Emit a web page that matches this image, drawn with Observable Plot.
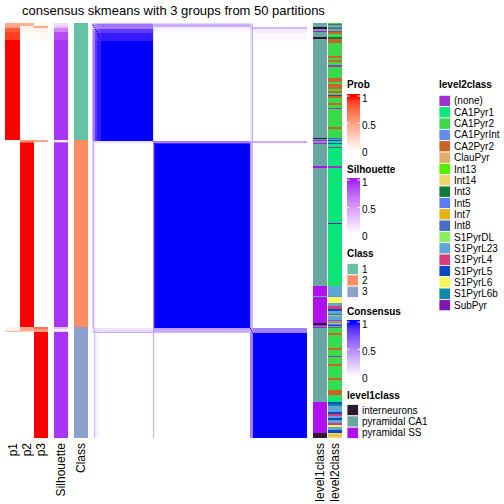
<!DOCTYPE html>
<html><head><meta charset="utf-8">
<script src="https://cdn.jsdelivr.net/npm/d3@7"></script>
<script src="https://cdn.jsdelivr.net/npm/@observablehq/plot@0.6"></script>
<style>
body{margin:0;background:#fff;}
#root{position:relative;width:504px;height:504px;overflow:hidden;font-family:"Liberation Sans",Arial,Helvetica,sans-serif;background:#fff;}
</style></head><body><div id="root"></div>
<script>
// ---------------- data ----------------
const titleText = "consensus skmeans with 3 groups from 50 partitions";
const nRows = 415;
const classNames = ["1","2","3"];
const classColors = ["#66C2A5","#FC8D62","#8DA0CB"];

// sample segments (top to bottom): number of rows, class, membership probs, silhouette,
// consensus of the segment with the core of clusters 1..3
const segRows  = [3, 2, 4, 8, 100, 2, 1, 184, 2, 2, 1, 106];
const segClass = ["1","1","1","1","1","2","2","2","3","3","3","3"];
const segP1    = [0.45,0.50,0.80,0.90,1.00, 0.00,0.05,0.00, 0.05,0.10,0.40,0.00];
const segP2    = [0.42,0.08,0.05,0.02,0.00, 0.55,0.85,1.00, 0.45,0.45,0.20,0.00];
const segP3    = [0.05,0.45,0.08,0.04,0.00, 0.45,0.05,0.00, 0.70,0.50,0.50,1.00];
const segSil   = [0.20,0.30,0.60,0.85,0.94, 0.10,0.70,0.94, 0.30,0.08,0.20,0.94];
const segCons1 = [0.60,0.55,0.85,0.95,1.00, 0.12,0.02,0.00, 0.12,0.15,0.35,0.00];
const segCons2 = [0.35,0.08,0.03,0.00,0.00, 0.55,0.90,1.00, 0.40,0.35,0.30,0.00];
const segCons3 = [0.00,0.30,0.08,0.03,0.00, 0.35,0.05,0.00, 0.55,0.55,0.55,1.00];

const level1Names  = ["interneurons","pyramidal CA1","pyramidal SS"];
const level1Colors = ["#2E1A2E","#69A8A2","#B010F0"];
const level1Runs = [
  ["pyramidal CA1",4],["interneurons",2],["pyramidal CA1",2],["pyramidal SS",1],["pyramidal CA1",5],
  ["interneurons",2],["pyramidal CA1",99],["interneurons",1],["pyramidal CA1",1],["pyramidal SS",1],
  ["pyramidal CA1",2],["pyramidal SS",1],["pyramidal CA1",22],["pyramidal SS",2],["pyramidal CA1",118],
  ["pyramidal SS",10],["pyramidal CA1",1],["pyramidal SS",26],["interneurons",2],["pyramidal SS",1],
  ["pyramidal CA1",1],["pyramidal SS",1],["pyramidal CA1",74],["pyramidal SS",31],["interneurons",5]
];

const level2Names  = ["(none)","CA1Pyr1","CA1Pyr2","CA1PyrInt","CA2Pyr2","ClauPyr","Int13","Int14","Int3","Int5","Int7","Int8","S1PyrDL","S1PyrL23","S1PyrL4","S1PyrL5","S1PyrL6","S1PyrL6b","SubPyr"];
const level2Colors = ["#A030D0","#0AE67A","#3BDA4A","#6090E8","#C8652A","#DEAE6A","#55EE00","#EAD56E","#117A3A","#5A7CFA","#E0B514","#4A6CC0","#8CF05C","#5EA6D6","#D83C78","#0A4AC0","#F6F65E","#0B89A6","#7D1AAE"];
const level2Runs = [
  ["CA1Pyr2",1],["(none)",1],["CA1Pyr2",2],["Int5",1],["(none)",1],["CA1Pyr2",2],["(none)",1],["CA2Pyr2",2],
  ["CA1Pyr2",3],["Int3",2],["CA2Pyr2",4],["CA1Pyr2",13],["CA2Pyr2",2],["CA1Pyr2",2],["CA2Pyr2",2],["CA1Pyr2",3],
  ["(none)",2],["CA1Pyr2",11],["CA2Pyr2",4],["CA1Pyr2",2],["CA2Pyr2",5],["CA1Pyr2",2],["CA2Pyr2",2],["CA1Pyr2",2],
  ["SubPyr",1],["CA2Pyr2",2],["CA1Pyr2",5],["CA2Pyr2",2],["CA1Pyr2",3],["(none)",1],["CA1Pyr2",18],["CA2Pyr2",2],
  ["CA1Pyr2",9],["Int8",1],["CA1PyrInt",1],["S1PyrL5",1],["CA1Pyr1",2],["S1PyrL5",1],["CA1Pyr1",3],["(none)",1],
  ["CA1Pyr1",18],["(none)",2],["CA1Pyr1",10],["CA1Pyr2",1],["CA1Pyr1",44],["SubPyr",1],["CA1Pyr1",39],["CA1Pyr2",1],
  ["CA1Pyr1",18],["CA1Pyr2",2],["CA1Pyr1",2],["S1PyrL23",10],["CA1PyrInt",1],["S1PyrL6",6],["S1PyrL23",3],["S1PyrL4",3],
  ["S1PyrL5",2],["S1PyrL23",3],["S1PyrL6b",1],["ClauPyr",1],["S1PyrL23",4],["S1PyrL4",1],["S1PyrL23",2],["Int7",1],
  ["Int5",1],["S1PyrL5",1],["CA1Pyr2",1],["(none)",1],["CA1Pyr2",5],["CA2Pyr2",2],["CA1Pyr2",6],["CA1Pyr1",1],
  ["CA1Pyr2",6],["CA2Pyr2",2],["CA1Pyr2",6],["(none)",1],["CA1Pyr2",7],["CA2Pyr2",2],["CA1Pyr2",6],["CA1Pyr1",1],
  ["CA1Pyr2",5],["CA2Pyr2",2],["CA1Pyr2",5],["CA1Pyr1",1],["CA1Pyr2",4],["CA2Pyr2",5],["CA1Pyr2",3],["CA1Pyr1",4],
  ["S1PyrL5",2],["S1PyrL6b",2],["S1PyrL23",6],["S1PyrL5",2],["S1PyrL4",2],["S1PyrL23",2],["S1PyrL5",2],["S1PyrL23",3],
  ["S1PyrL4",2],["S1PyrL6",2],["S1PyrL23",3],["S1PyrL5",3],["Int14",2],["Int7",1],["Int14",2]
];

const colLabels = ["p1","p2","p3","Silhouette","Class","level1class","level2class"];

// ---------------- build tables ----------------
let acc = 0;
const segs = segRows.map((n, k) => {
  const s = {start: acc, end: acc + n, cls: segClass[k], p1: segP1[k], p2: segP2[k], p3: segP3[k],
             sil: segSil[k], cons: [segCons1[k], segCons2[k], segCons3[k]]};
  acc += n; return s;
});
function runsToRows(runs) { let a = 0; return runs.map(([v, n]) => { const r = {start: a, end: a + n, v}; a += n; return r; }); }
const level1Data = runsToRows(level1Runs);
const level2Data = runsToRows(level2Runs);

const rowSeg = new Int32Array(nRows);
segs.forEach((s, k) => { for (let i = s.start; i < s.end; i++) rowSeg[i] = k; });
const consValues = new Float64Array(nRows * nRows);
for (let i = 0; i < nRows; i++) {
  const a = segs[rowSeg[i]].cons;
  for (let j = 0; j < nRows; j++) {
    const b = segs[rowSeg[j]].cons;
    consValues[i * nRows + j] = i === j ? 1 : Math.min(1, a[0]*b[0] + a[1]*b[1] + a[2]*b[2]);
  }
}

// ---------------- drawing ----------------
const root = document.getElementById("root");
const TOP = 23;
function place(el, left, top) {
  el.style.position = "absolute"; el.style.left = left + "px"; el.style.top = top + "px";
  el.style.maxWidth = "none"; el.style.background = "transparent";
  root.appendChild(el);
}
const yScale = {domain: [0, nRows], reverse: true, axis: null};
function column(left, width, data, fill, color) {
  place(Plot.plot({width, height: nRows, margin: 0, x: {axis: null}, y: yScale, color,
    marks: [Plot.rect(data, {y1: "start", y2: "end", fill})]}), left, TOP);
}
const probColor = {type: "linear", domain: [0, 1], range: ["white", "red"], interpolate: "lab"};
const silColor = {type: "linear", domain: [0, 1], range: ["white", "#A020F0"], interpolate: "lab"};
const consColor = {type: "linear", domain: [0, 1], range: ["white", "blue"], interpolate: "lab"};

column(5, 15, segs, "p1", probColor);
column(20, 14, segs, "p2", probColor);
column(34, 14, segs, "p3", probColor);
column(54, 14, segs, "sil", silColor);
column(74, 14, segs, "cls", {domain: classNames, range: classColors});
place(Plot.plot({width: 215, height: nRows, margin: 0,
  x: {domain: [0, nRows], axis: null}, y: yScale, color: consColor,
  marks: [Plot.raster(consValues, {width: nRows, height: nRows, x1: 0, x2: nRows, y1: 0, y2: nRows,
    fill: Plot.identity, imageRendering: "pixelated"})]}), 92, TOP);
column(313, 14, level1Data, "v", {domain: level1Names, range: level1Colors});
column(328, 14, level2Data, "v", {domain: level2Names, range: level2Colors});

// ---------------- text & legends ----------------
const svg = d3.create("svg").attr("width", 504).attr("height", 504)
  .style("position", "absolute").style("left", "0px").style("top", "0px")
  .attr("font-family", "'Liberation Sans', Arial, Helvetica, sans-serif");
svg.append("text").attr("x", 173.5).attr("y", 15).attr("text-anchor", "middle")
  .attr("font-size", 13).attr("fill", "#000").text(titleText);

const labelX = [12.5, 27, 41, 61, 81, 320, 335];
colLabels.forEach((t, k) => {
  svg.append("text").attr("transform", `translate(${labelX[k]},443) rotate(-90)`)
    .attr("text-anchor", "end").attr("dy", "0.35em").attr("font-size", 12).attr("fill", "#000").text(t);
});

const defs = svg.append("defs");
function ramp(id, title, titleBase, top, color) {
  const x = 347, w = 13, h = 58;
  const yOf = v => top + 2 + (1 - v) * 54.7;
  const g = defs.append("linearGradient").attr("id", id).attr("gradientUnits", "userSpaceOnUse")
    .attr("x1", 0).attr("x2", 0).attr("y1", yOf(0)).attr("y2", yOf(1));
  const interp = d3.interpolateLab("white", color);
  d3.range(0, 1.0001, 0.1).forEach(t => g.append("stop").attr("offset", t).attr("stop-color", interp(t)));
  svg.append("text").attr("x", x).attr("y", titleBase).attr("font-size", 10).attr("font-weight", "bold").text(title);
  svg.append("rect").attr("x", x).attr("y", top).attr("width", w).attr("height", h).attr("fill", `url(#${id})`);
  [1, 0.5, 0].forEach(v => {
    const y = yOf(v);
    if (v > 0) {
      svg.append("line").attr("x1", x).attr("x2", x + 2.5).attr("y1", y).attr("y2", y).attr("stroke", "white").attr("stroke-width", 1);
      svg.append("line").attr("x1", x + w - 2.5).attr("x2", x + w).attr("y1", y).attr("y2", y).attr("stroke", "white").attr("stroke-width", 1);
    }
    svg.append("text").attr("x", 362).attr("y", Math.min(y + 2, top + h)).attr("dy", "0.35em").attr("font-size", 10).text(v);
  });
}
ramp("gProb", "Prob", 88, 94, "red");
ramp("gSil", "Silhouette", 173, 178, "#A020F0");
ramp("gCons", "Consensus", 315, 320, "blue");

const STEP = 11.34;
function discrete(title, x, titleBase, top, names, colors) {
  svg.append("text").attr("x", x).attr("y", titleBase).attr("font-size", 10).attr("font-weight", "bold").text(title);
  names.forEach((n, k) => {
    const y = top + k * STEP;
    svg.append("rect").attr("x", x).attr("y", y).attr("width", 11.5).attr("height", STEP)
      .attr("fill", colors[k]).attr("stroke", "white").attr("stroke-width", 0.8);
    svg.append("text").attr("x", x + 15).attr("y", y + STEP / 2).attr("dy", "0.35em").attr("font-size", 10).text(n);
  });
}
discrete("Class", 347, 257, 263.5, classNames, classColors);
discrete("level1class", 347, 399, 404.5, level1Names, level1Colors);
discrete("level2class", 439, 88, 95.3, level2Names, level2Colors);

root.appendChild(svg.node());
</script></body></html>
